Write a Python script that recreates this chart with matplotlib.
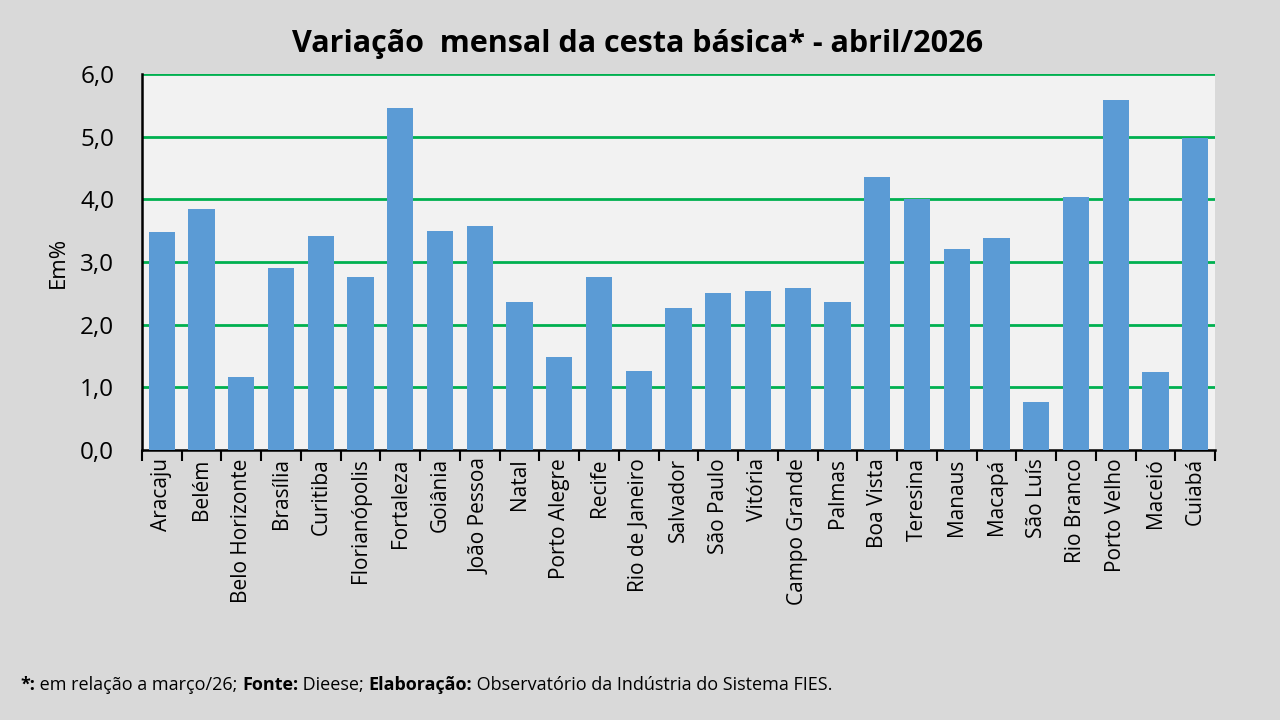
import matplotlib
matplotlib.use("Agg")
import matplotlib.pyplot as plt
import numpy as np
from matplotlib.ticker import FuncFormatter, FixedLocator

cities = ["Aracaju", "Belém", "Belo Horizonte", "Brasília", "Curitiba", "Florianópolis",
          "Fortaleza", "Goiânia", "João Pessoa", "Natal", "Porto Alegre", "Recife",
          "Rio de Janeiro", "Salvador", "São Paulo", "Vitória", "Campo Grande", "Palmas",
          "Boa Vista", "Teresina", "Manaus", "Macapá", "São Luís", "Rio Branco",
          "Porto Velho", "Maceió", "Cuiabá"]
values = [3.48, 3.85, 1.17, 2.91, 3.42, 2.76, 5.45, 3.50, 3.57, 2.36, 1.49, 2.76,
          1.26, 2.27, 2.50, 2.54, 2.58, 2.36, 4.35, 4.00, 3.21, 3.38, 0.76, 4.04,
          5.58, 1.25, 4.98]
yticks = [0, 1, 2, 3, 4, 5, 6]

title = "Variação  mensal da cesta básica* - abril/2026"
ylabel = "Em%"

FONT = ["Open Sans", "DejaVu Sans"]
plt.rcParams['font.family'] = FONT

fig = plt.figure(figsize=(12.8, 7.2), dpi=100, facecolor="#d9d9d9")
ax = fig.add_axes([142/1280, 1-450/720, (1215-142)/1280, (450-74)/720])
ax.set_facecolor("#f2f2f2")

x = np.arange(len(cities))
ax.bar(x, values, width=0.66, color="#5b9bd5", zorder=3)

ax.set_xlim(-0.5, len(cities) - 0.5)
ax.set_ylim(0, 6)
ax.set_yticks(yticks)
ax.yaxis.set_major_formatter(FuncFormatter(lambda v, p: f"{v:.1f}".replace(".", ",")))
for yv in yticks[1:]:
    ax.axhline(yv, color="#00b050", lw=2, zorder=2)

ax.set_xticks(x)
ax.set_xticklabels(cities, rotation=90, fontsize=15)
ax.xaxis.set_minor_locator(FixedLocator(np.arange(-0.5, len(cities), 1.0)))
ax.tick_params(axis="x", which="major", length=0, pad=6)
ax.tick_params(axis="x", which="minor", length=8, width=1.5, color="black")
ax.tick_params(axis="y", length=0, labelsize=17.5, pad=20)

for s in ["top", "right"]:
    ax.spines[s].set_visible(False)
ax.spines["left"].set_linewidth(1.8)
ax.spines["bottom"].set_linewidth(1.8)

ax.set_ylabel(ylabel, fontsize=16, labelpad=8)

fig.text(0.498, 1-44/720, title, ha="center", va="center", fontsize=22, fontweight="bold")

# footnote with mixed bold
parts = [("*:", "bold"), (" em relação a março/26; ", "normal"), ("Fonte:", "bold"),
         (" Dieese; ", "normal"), ("Elaboração:", "bold"),
         (" Observatório da Indústria do Sistema FIES.", "normal")]
fig.canvas.draw()
renderer = fig.canvas.get_renderer()
xpos = 20
ypix = 720 - 685
for txt, w in parts:
    t = fig.text(xpos/1280, ypix/720, txt, fontsize=13, fontweight=w, ha="left", va="center")
    bb = t.get_window_extent(renderer=renderer)
    xpos += bb.width

fig.savefig("out.png", dpi=100, facecolor=fig.get_facecolor())
